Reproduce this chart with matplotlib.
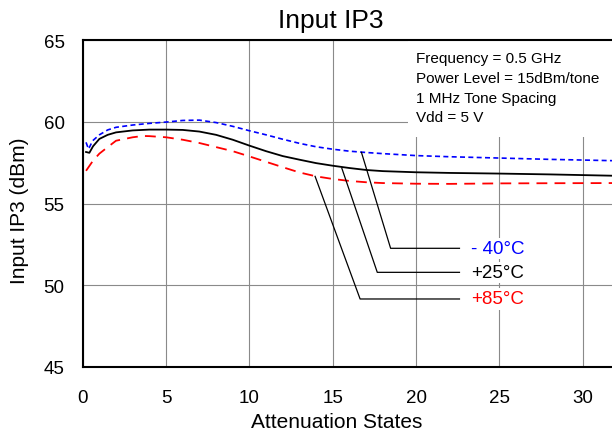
import matplotlib
matplotlib.use("Agg")
import matplotlib.pyplot as plt
from matplotlib.patches import Rectangle

plt.rcParams['font.family'] = ['Liberation Sans', 'DejaVu Sans']

# ---- data ----
x_cold = [0.2, 0.35, 0.6, 1.0, 1.5, 2.0, 3.0, 4.0, 5.0, 6.0, 7.0, 8.0, 9.0, 10, 11, 12, 13, 14, 15, 16, 17, 18, 20, 22, 25, 28, 31.75]
y_cold = [58.74, 58.33, 58.84, 59.2, 59.5, 59.66, 59.8, 59.9, 59.98, 60.08, 60.1, 59.95, 59.72, 59.45, 59.2, 58.93, 58.68, 58.47, 58.32, 58.2, 58.12, 58.05, 57.93, 57.86, 57.78, 57.7, 57.62]

x_room = [0.2, 0.4, 0.62, 1.0, 1.5, 2.0, 3.0, 4.0, 5.0, 6.0, 7.0, 8.0, 9.0, 10, 11, 12, 13, 14, 15, 16, 17, 18, 20, 22, 25, 28, 31.75]
y_room = [58.15, 58.1, 58.5, 58.95, 59.2, 59.35, 59.47, 59.52, 59.52, 59.5, 59.4, 59.2, 58.9, 58.54, 58.2, 57.9, 57.68, 57.47, 57.31, 57.17, 57.05, 56.98, 56.91, 56.87, 56.83, 56.78, 56.7]

x_hot = [0.2, 0.62, 1.0, 1.5, 2.0, 3.0, 3.6, 4.0, 5.0, 6.0, 7.0, 8.0, 9.0, 10, 11, 12, 13, 14, 15, 16, 17, 18, 20, 22, 25, 28, 31.75]
y_hot = [57.0, 57.62, 58.05, 58.45, 58.84, 59.05, 59.13, 59.12, 59.05, 58.9, 58.7, 58.45, 58.2, 57.88, 57.55, 57.22, 56.9, 56.66, 56.5, 56.38, 56.3, 56.25, 56.21, 56.2, 56.23, 56.24, 56.25]

series_labels = ["- 40°C", "+25°C", "+85°C"]
series_colors = ["#0000ff", "#000000", "#ff0000"]
# leader lines: point on curve -> elbow -> end of horizontal
lead_start_x = [16.72, 15.54, 13.94]
lead_start_y = [58.13, 57.17, 56.66]
lead_elbow_x = [18.47, 17.67, 16.64]
lead_level_y = [52.26, 50.79, 49.16]
lead_end_x = 22.6
label_x = 23.3

info_lines = ["Frequency = 0.5 GHz", "Power Level = 15dBm/tone", "1 MHz Tone Spacing", "Vdd = 5 V"]

xticks = [0, 5, 10, 15, 20, 25, 30]
yticks = [45, 50, 55, 60, 65]

# ---- figure ----
fig = plt.figure(figsize=(6.12, 4.35), dpi=100)
ax = fig.add_axes([82.7/612, 1-368/435, 1-82.7/612, (368-41)/435])
ax.set_xlim(0, 31.75)
ax.set_ylim(45, 65)
ax.set_xticks(xticks)
ax.set_yticks(yticks)
ax.grid(True, color='#8a8a8a', lw=0.8)
ax.set_axisbelow(True)
ax.tick_params(axis='y', labelsize=13.5, length=0, pad=13)
ax.tick_params(axis='x', labelsize=13.5, length=0, pad=16)
for s in ['left', 'bottom', 'top']:
    ax.spines[s].set_linewidth(1.5)
ax.spines['right'].set_visible(False)

ax.plot(x_cold, y_cold, color=series_colors[0], lw=1.2, ls=(0, (3, 2)), zorder=4)
ax.plot(x_room, y_room, color=series_colors[1], lw=1.3, zorder=4)
ax.plot(x_hot, y_hot, color=series_colors[2], lw=1.3, ls=(0, (6, 4)), zorder=4)

# info box
ax.add_patch(Rectangle((0.6146, 0.703), 0.4, 0.3, transform=ax.transAxes,
                       facecolor='white', edgecolor='none', zorder=2))
for i, line in enumerate(info_lines):
    fig.text(416/612, 1 - (59 + i*19.8)/435, line, fontsize=11, va='center', ha='left', zorder=5)

for i in range(3):
    ax.plot([lead_start_x[i], lead_elbow_x[i], lead_end_x],
            [lead_start_y[i], lead_level_y[i], lead_level_y[i]],
            color='black', lw=0.9, zorder=5)
    ax.text(label_x, lead_level_y[i], series_labels[i], color=series_colors[i],
            fontsize=13.5, va='center', ha='left', zorder=6,
            bbox=dict(facecolor='white', edgecolor='none', pad=1.5))

fig.text(331/612, 1 - 21/435, "Input IP3", fontsize=19, ha='center', va='center')
fig.text(337/612, 1 - 423/435, "Attenuation States", fontsize=15, ha='center', va='center')
fig.text(20/612, 1 - 211/435, "Input IP3 (dBm)", fontsize=15, ha='center', va='center', rotation=90)

fig.savefig("out.png", dpi=100)
